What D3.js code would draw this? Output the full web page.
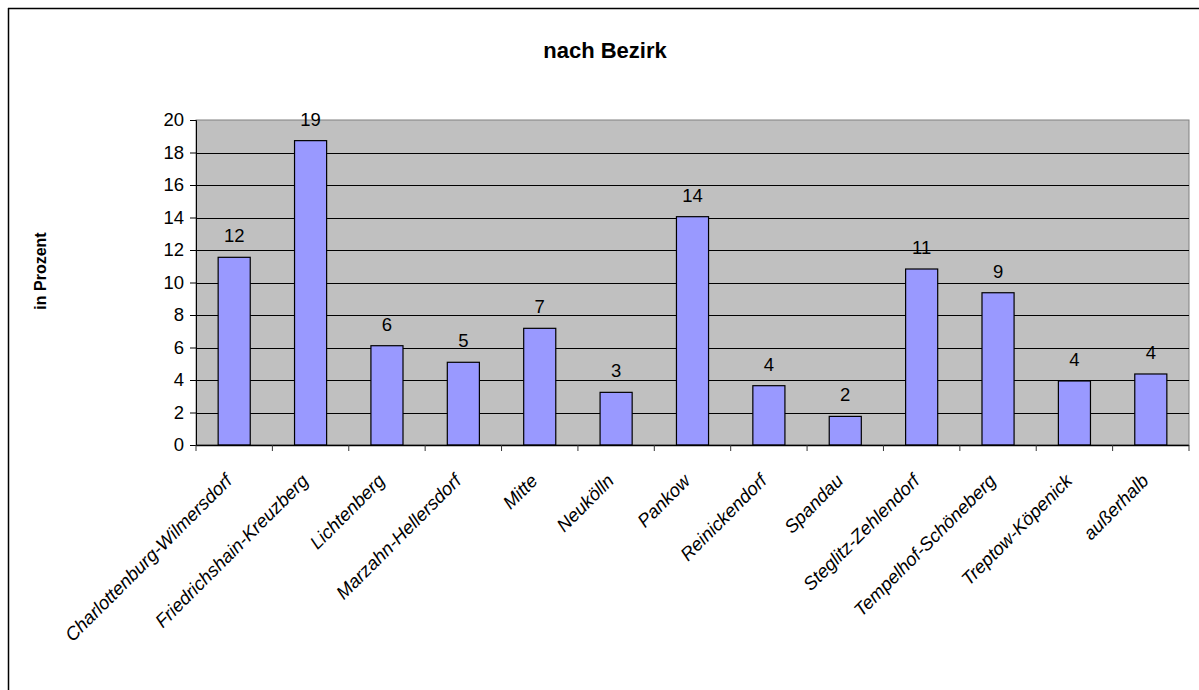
<!DOCTYPE html>
<html>
<head>
<meta charset="utf-8">
<script src="https://cdn.jsdelivr.net/npm/d3@7"></script>
<style>
  html, body { margin: 0; padding: 0; background: #fff; }
  svg { display: block; }
  text { font-family: "Liberation Sans", Arial, sans-serif; fill: #000; }
</style>
</head>
<body>
<script>
const categories = ["Charlottenburg-Wilmersdorf", "Friedrichshain-Kreuzberg", "Lichtenberg",
  "Marzahn-Hellersdorf", "Mitte", "Neukölln", "Pankow", "Reinickendorf", "Spandau",
  "Steglitz-Zehlendorf", "Tempelhof-Schöneberg", "Treptow-Köpenick", "außerhalb"];
const values = [11.55, 18.73, 6.11, 5.09, 7.18, 3.24, 14.05, 3.65, 1.76, 10.83, 9.37, 3.94, 4.37];
const valueLabels = [12, 19, 6, 5, 7, 3, 14, 4, 2, 11, 9, 4, 4];
const yTicks = [0, 2, 4, 6, 8, 10, 12, 14, 16, 18, 20];
const title = "nach Bezirk";
const yTitle = "in Prozent";

const W = 1199, H = 690;
const plot = { left: 196, right: 1189, top: 120, bottom: 445 };

const svg = d3.select("body").append("svg").attr("width", W).attr("height", H);

// outer chart border (only top/left visible in the crop)
svg.append("line").attr("x1", 8).attr("x2", W + 5).attr("y1", 8.5).attr("y2", 8.5)
  .attr("stroke", "#000").attr("stroke-width", 1.5);
svg.append("line").attr("x1", 8.5).attr("x2", 8.5).attr("y1", 8).attr("y2", H + 5)
  .attr("stroke", "#000").attr("stroke-width", 1.5);

const x = d3.scaleBand().domain(categories).range([plot.left, plot.right])
  .paddingInner(0.58).paddingOuter(0.29);
const y = d3.scaleLinear().domain([0, 20]).range([plot.bottom, plot.top]);

// plot area background
svg.append("rect").attr("x", plot.left).attr("y", plot.top)
  .attr("width", plot.right - plot.left).attr("height", plot.bottom - plot.top)
  .attr("fill", "#c0c0c0").attr("stroke", "#808080").attr("stroke-width", 1);

// gridlines
svg.append("g").selectAll("line").data(yTicks.filter(t => t > 0 && t < 20)).join("line")
  .attr("x1", plot.left).attr("x2", plot.right)
  .attr("y1", d => Math.round(y(d)) + 0.5).attr("y2", d => Math.round(y(d)) + 0.5)
  .attr("stroke", "#000").attr("stroke-width", 1);

// y axis
const yAxis = d3.axisLeft(y).tickValues(yTicks).tickSize(6).tickPadding(6);
const gy = svg.append("g").attr("transform", `translate(${plot.left},0)`).call(yAxis);
gy.select(".domain").attr("stroke", "#000");
gy.selectAll(".tick line").attr("stroke", "#000");
gy.selectAll(".tick text").style("font-size", "18.5px")
  .style("font-family", "'Liberation Sans', Arial, sans-serif").attr("fill", "#000");

// bars
svg.append("g").selectAll("rect").data(values).join("rect")
  .attr("x", (d, i) => x(categories[i]))
  .attr("y", d => y(d))
  .attr("width", x.bandwidth())
  .attr("height", d => y(0) - y(d))
  .attr("fill", "#9999ff").attr("stroke", "#000").attr("stroke-width", 1.2);

// x axis line and ticks at category boundaries
const step = x.step();
const boundaries = categories.map(c => x(c) + x.bandwidth() / 2 - step / 2)
  .concat([x(categories[categories.length - 1]) + x.bandwidth() / 2 + step / 2]);
svg.append("line").attr("x1", plot.left).attr("x2", plot.right)
  .attr("y1", plot.bottom + 0.5).attr("y2", plot.bottom + 0.5)
  .attr("stroke", "#000").attr("stroke-width", 1.3);
svg.append("g").selectAll("line").data(boundaries).join("line")
  .attr("x1", d => d).attr("x2", d => d)
  .attr("y1", plot.bottom).attr("y2", plot.bottom + 6)
  .attr("stroke", "#333").attr("stroke-width", 1);

// value labels
svg.append("g").selectAll("text").data(values).join("text")
  .attr("x", (d, i) => x(categories[i]) + x.bandwidth() / 2)
  .attr("y", d => y(d) - 15)
  .attr("text-anchor", "middle")
  .style("font-size", "18.5px")
  .text((d, i) => valueLabels[i]);

// category labels
svg.append("g").selectAll("text").data(categories).join("text")
  .attr("transform", d => `translate(${x(d) + x.bandwidth() / 2 - 1},${plot.bottom + 37}) rotate(-45)`)
  .attr("text-anchor", "end")
  .style("font-size", "18.5px")
  .style("font-style", "italic")
  .text(d => d);

// title
svg.append("text").attr("x", 605).attr("y", 58).attr("text-anchor", "middle")
  .style("font-size", "22px").style("font-weight", "bold").text(title);

// y axis title
svg.append("text").attr("transform", "translate(46,271) rotate(-90)")
  .attr("text-anchor", "middle")
  .style("font-size", "16px").style("font-weight", "bold").text(yTitle);
</script>
</body>
</html>
